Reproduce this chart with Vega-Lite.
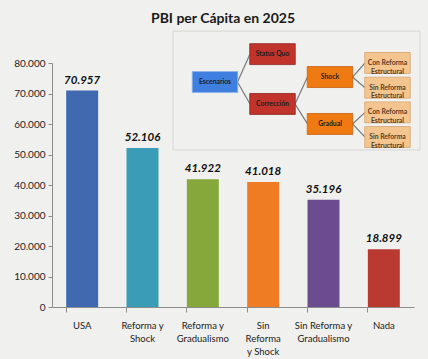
{
  "$schema": "https://vega.github.io/schema/vega-lite/v6.json",
  "width": 362,
  "height": 244,
  "autosize": "none",
  "padding": {"left": 52, "top": 63, "right": 14, "bottom": 52},
  "background": "#f0f0ee",
  "title": {"text": "PBI per Cápita en 2025", "anchor": "middle", "dx": -10, "fontSize": 14, "fontWeight": "bold", "color": "#1a1a1a", "font": "Lato", "offset": 5},
  "config": {
    "font": "Lato",
    "view": {"stroke": null},
    "locale": {"number": {"decimal": ",", "thousands": ".", "grouping": [3], "currency": ["", ""]}}
  },
  "datasets": {
    "bars": [
      {"escenario": "USA", "pbi": 70957},
      {"escenario": "Reforma y Shock", "pbi": 52106},
      {"escenario": "Reforma y Gradualismo", "pbi": 41922},
      {"escenario": "Sin Reforma y Shock", "pbi": 41018},
      {"escenario": "Sin Reforma y Gradualismo", "pbi": 35196},
      {"escenario": "Nada", "pbi": 18899}
    ],
    "nodes": [
      {"id": "esc", "label": "Escenarios", "kind": "raiz", "level": 0, "order": 0.77, "parent": null},
      {"id": "sq", "label": "Status Quo", "kind": "fase", "level": 1, "order": -0.36, "parent": "esc"},
      {"id": "cor", "label": "Corrección", "kind": "fase", "level": 1, "order": 1.66, "parent": "esc"},
      {"id": "sho", "label": "Shock", "kind": "ritmo", "level": 2, "order": 0.57, "parent": "cor"},
      {"id": "gra", "label": "Gradual", "kind": "ritmo", "level": 2, "order": 2.47, "parent": "cor"},
      {"id": "sho_con", "label": "Con Reforma\nEstructural", "kind": "reforma", "level": 3, "order": 0, "parent": "sho"},
      {"id": "sho_sin", "label": "Sin Reforma\nEstructural", "kind": "reforma", "level": 3, "order": 1, "parent": "sho"},
      {"id": "gra_con", "label": "Con Reforma\nEstructural", "kind": "reforma", "level": 3, "order": 2, "parent": "gra"},
      {"id": "gra_sin", "label": "Sin Reforma\nEstructural", "kind": "reforma", "level": 3, "order": 3, "parent": "gra"}
    ]
  },
  "layer": [
    {
      "data": {"name": "bars"},
      "encoding": {
        "x": {
          "field": "escenario", "type": "nominal", "sort": null,
          "scale": {"paddingInner": 0.47, "paddingOuter": 0.235},
          "axis": {
            "title": null, "labelAngle": 0, "bandPosition": 0, "tickSize": 5,
            "domainColor": "#8c8c8c", "tickColor": "#8c8c8c",
            "labelFontSize": 9.5, "labelColor": "#222222", "labelPadding": 8,
            "labelBaseline": "top", "labelLineHeight": 13, "labelOverlap": false, "labelLimit": 200,
            "labelExpr": "datum.value == 'Reforma y Shock' ? ['Reforma y', 'Shock'] : datum.value == 'Reforma y Gradualismo' ? ['Reforma y', 'Gradualismo'] : datum.value == 'Sin Reforma y Shock' ? ['Sin', 'Reforma', 'y Shock'] : datum.value == 'Sin Reforma y Gradualismo' ? ['Sin Reforma y', 'Gradualismo'] : datum.value"
          }
        },
        "y": {
          "field": "pbi", "type": "quantitative",
          "scale": {"domain": [0, 80000], "nice": false},
          "axis": {
            "title": null, "values": [0, 10000, 20000, 30000, 40000, 50000, 60000, 70000, 80000],
            "labelExpr": "format(datum.value, ',')", "grid": false, "tickSize": 4,
            "domainColor": "#8c8c8c", "tickColor": "#8c8c8c",
            "labelFontSize": 10, "labelColor": "#222222", "labelPadding": 3
          }
        }
      },
      "layer": [
        {
          "mark": {"type": "bar"},
          "encoding": {
            "color": {
              "field": "escenario", "type": "nominal", "sort": null, "legend": null,
              "scale": {
                "domain": ["USA", "Reforma y Shock", "Reforma y Gradualismo", "Sin Reforma y Shock", "Sin Reforma y Gradualismo", "Nada"],
                "range": ["#4169b0", "#3a9cb6", "#86a83a", "#ef7b22", "#6b4c8f", "#ba3a32"]
              }
            }
          }
        },
        {
          "mark": {"type": "text", "baseline": "bottom", "dy": -5, "fontSize": 11.5, "fontWeight": "bold", "fontStyle": "italic", "color": "#111111"},
          "encoding": {"text": {"field": "pbi", "type": "quantitative", "format": ","}}
        }
      ]
    },
    {
      "data": {"name": "nodes"},
      "layer": [
        {
          "mark": {"type": "rect", "fill": null, "stroke": "#d6d6d4", "strokeWidth": 1, "xOffset": -42, "x2Offset": 32.5, "yOffset": -23, "y2Offset": 13},
          "encoding": {
            "x": {"aggregate": "min", "field": "level", "type": "quantitative", "scale": {"domain": [-2.835, 3.461], "nice": false, "zero": false}, "axis": null},
            "x2": {"aggregate": "max", "field": "level"},
            "y": {"aggregate": "min", "field": "order", "type": "quantitative", "scale": {"domain": [0, 9.89], "reverse": true, "nice": false, "zero": false}, "axis": null},
            "y2": {"aggregate": "max", "field": "order"}
          }
        },
        {
          "transform": [
            {"filter": "datum.parent != null"},
            {"lookup": "parent", "from": {"data": {"name": "nodes"}, "key": "id", "fields": ["level", "order"]}, "as": ["plevel", "porder"]}
          ],
          "mark": {"type": "rule", "color": "#7a7a7a", "strokeWidth": 1.2, "xOffset": 22.5, "x2Offset": -22.5},
          "encoding": {
            "x": {"field": "plevel", "type": "quantitative", "scale": {"domain": [-2.835, 3.461], "nice": false, "zero": false}, "axis": null},
            "y": {"field": "porder", "type": "quantitative", "scale": {"domain": [0, 9.89], "reverse": true, "nice": false, "zero": false}, "axis": null},
            "x2": {"field": "level"},
            "y2": {"field": "order"}
          }
        },
        {
          "mark": {"type": "point", "shape": "M-1,-0.46H1V0.46H-1Z", "size": 2070, "filled": true, "opacity": 1, "strokeWidth": 0.8},
          "encoding": {
            "x": {"field": "level", "type": "quantitative", "scale": {"domain": [-2.835, 3.461], "nice": false, "zero": false}, "axis": null},
            "y": {"field": "order", "type": "quantitative", "scale": {"domain": [0, 9.89], "reverse": true, "nice": false, "zero": false}, "axis": null},
            "fill": {"field": "kind", "type": "nominal", "legend": null, "scale": {"domain": ["raiz", "fase", "ritmo", "reforma"], "range": ["#3f7fe0", "#c0342c", "#f07a12", "#f5c590"]}},
            "stroke": {"field": "kind", "type": "nominal", "legend": null, "scale": {"domain": ["raiz", "fase", "ritmo", "reforma"], "range": ["#8fb2ea", "#8e2420", "#c76010", "#d9a46c"]}}
          }
        },
        {
          "mark": {"type": "text", "fontSize": 6.8, "fontWeight": "bold", "lineBreak": "\n", "lineHeight": 8.5, "baseline": "middle"},
          "encoding": {
            "x": {"field": "level", "type": "quantitative", "scale": {"domain": [-2.835, 3.461], "nice": false, "zero": false}, "axis": null},
            "y": {"field": "order", "type": "quantitative", "scale": {"domain": [0, 9.89], "reverse": true, "nice": false, "zero": false}, "axis": null},
            "text": {"field": "label", "type": "nominal"},
            "color": {"condition": {"test": "datum.kind == 'reforma'", "value": "#5a3b1e"}, "value": "#1e1e1e"}
          }
        }
      ]
    }
  ],
  "resolve": {"scale": {"x": "independent", "y": "independent", "color": "independent"}, "axis": {"x": "independent", "y": "independent"}}
}
